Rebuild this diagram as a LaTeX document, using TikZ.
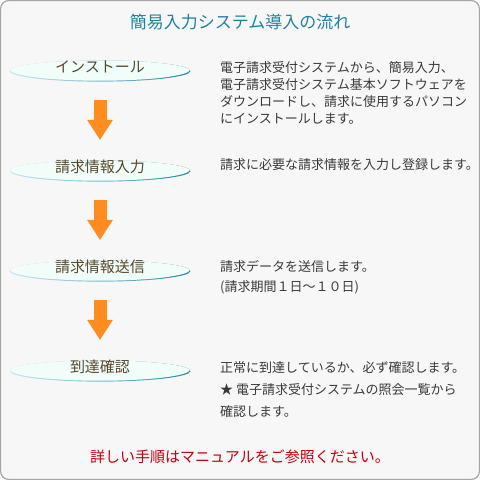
\documentclass[tikz,border=0pt]{standalone}
\usepackage{fontspec}
\setmainfont{Noto Sans CJK JP}
\usetikzlibrary{positioning,arrows.meta,shapes.geometric}
\definecolor{framegray}{HTML}{A6A6A6}
\definecolor{paper}{HTML}{F7F7F7}
\definecolor{titleteal}{HTML}{1F82A2}
\definecolor{stepbrown}{HTML}{5A482C}
\definecolor{desctext}{HTML}{3A3A3A}
\definecolor{noteRed}{HTML}{C4000C}
\definecolor{flowOrange}{HTML}{FF8C1E}
\definecolor{rimLight}{HTML}{C6EAEF}
\definecolor{rimDark}{HTML}{2A88A8}
\definecolor{stepFill}{HTML}{F0FDF9}

\begin{document}
\begin{tikzpicture}[x=1pt, y=-1pt, every node/.style={inner sep=0pt},
    stepnode/.style={ellipse, minimum width=181pt, minimum height=21pt,
      left color=rimLight, right color=rimDark,
      path picture={\fill[stepFill] ([yshift=1.3pt]path picture bounding box.center)
        ellipse [x radius=90pt, y radius=11pt];},
      text=stepbrown, font=\fontsize{15}{15}\selectfont,
      text height=9pt, text depth=6pt},
    desc/.style={anchor=base west, align=left, text=desctext},
    flowarrow/.style={draw=flowOrange, line width=13pt,
      -{Triangle[width=26pt, length=20pt, line width=0pt, fill=flowOrange]},
      shorten <=18.4pt, shorten >=20.4pt}]
        \useasboundingbox (0,0) rectangle (480,480);
        % Panel
        \draw[framegray, line width=1.2pt, rounded corners=8pt, fill=paper]
          (0.6,0.6) rectangle (479.4,479.4);

        \node (title) [text=titleteal, font=\fontsize{17}{17}\selectfont] at (240,22)
        {簡易入力システム導入の流れ};

        % Steps of the flow
        \node[stepnode] (inst) at (100,71) {インストール};
        \node[stepnode] (input) at (100,171) {請求情報入力};
        \node[stepnode] (send) at (100,271) {請求情報送信};
        \node[stepnode] (check) at (100,371) {到達確認};

        \draw[flowarrow] (inst) -- (input);
        \draw[flowarrow] (input) -- (send);
        \draw[flowarrow] (send) -- (check);

        % What is done at each step (base = last line)
        \node[desc, font=\fontsize{13}{17}\selectfont] (instdesc) at (220,123)
        {電子請求受付システムから、簡易入力、\\
         電子請求受付システム基本ソフトウェアを\\
         ダウンロードし、請求に使用するパソコン\\
         にインストールします。};
        \node[desc, font=\fontsize{13}{17}\selectfont] (inputdesc) at (220,169.5)
        {請求に必要な請求情報を入力し登録します。};
        \node[desc, font=\fontsize{13}{20}\selectfont] (senddesc) at (220,291.5)
        {請求データを送信します。\\
         (請求期間１日～１０日)};
        \node[desc, font=\fontsize{13}{22}\selectfont] (checkdesc) at (220,416.5)
        {正常に到達しているか、必ず確認します。\\
         ★ 電子請求受付システムの照会一覧から\\
         確認します。};

        \node (note) [text=noteRed, font=\fontsize{15}{15}\selectfont] at (240,457)
        {詳しい手順はマニュアルをご参照ください。};
      \end{tikzpicture}
\end{document}
